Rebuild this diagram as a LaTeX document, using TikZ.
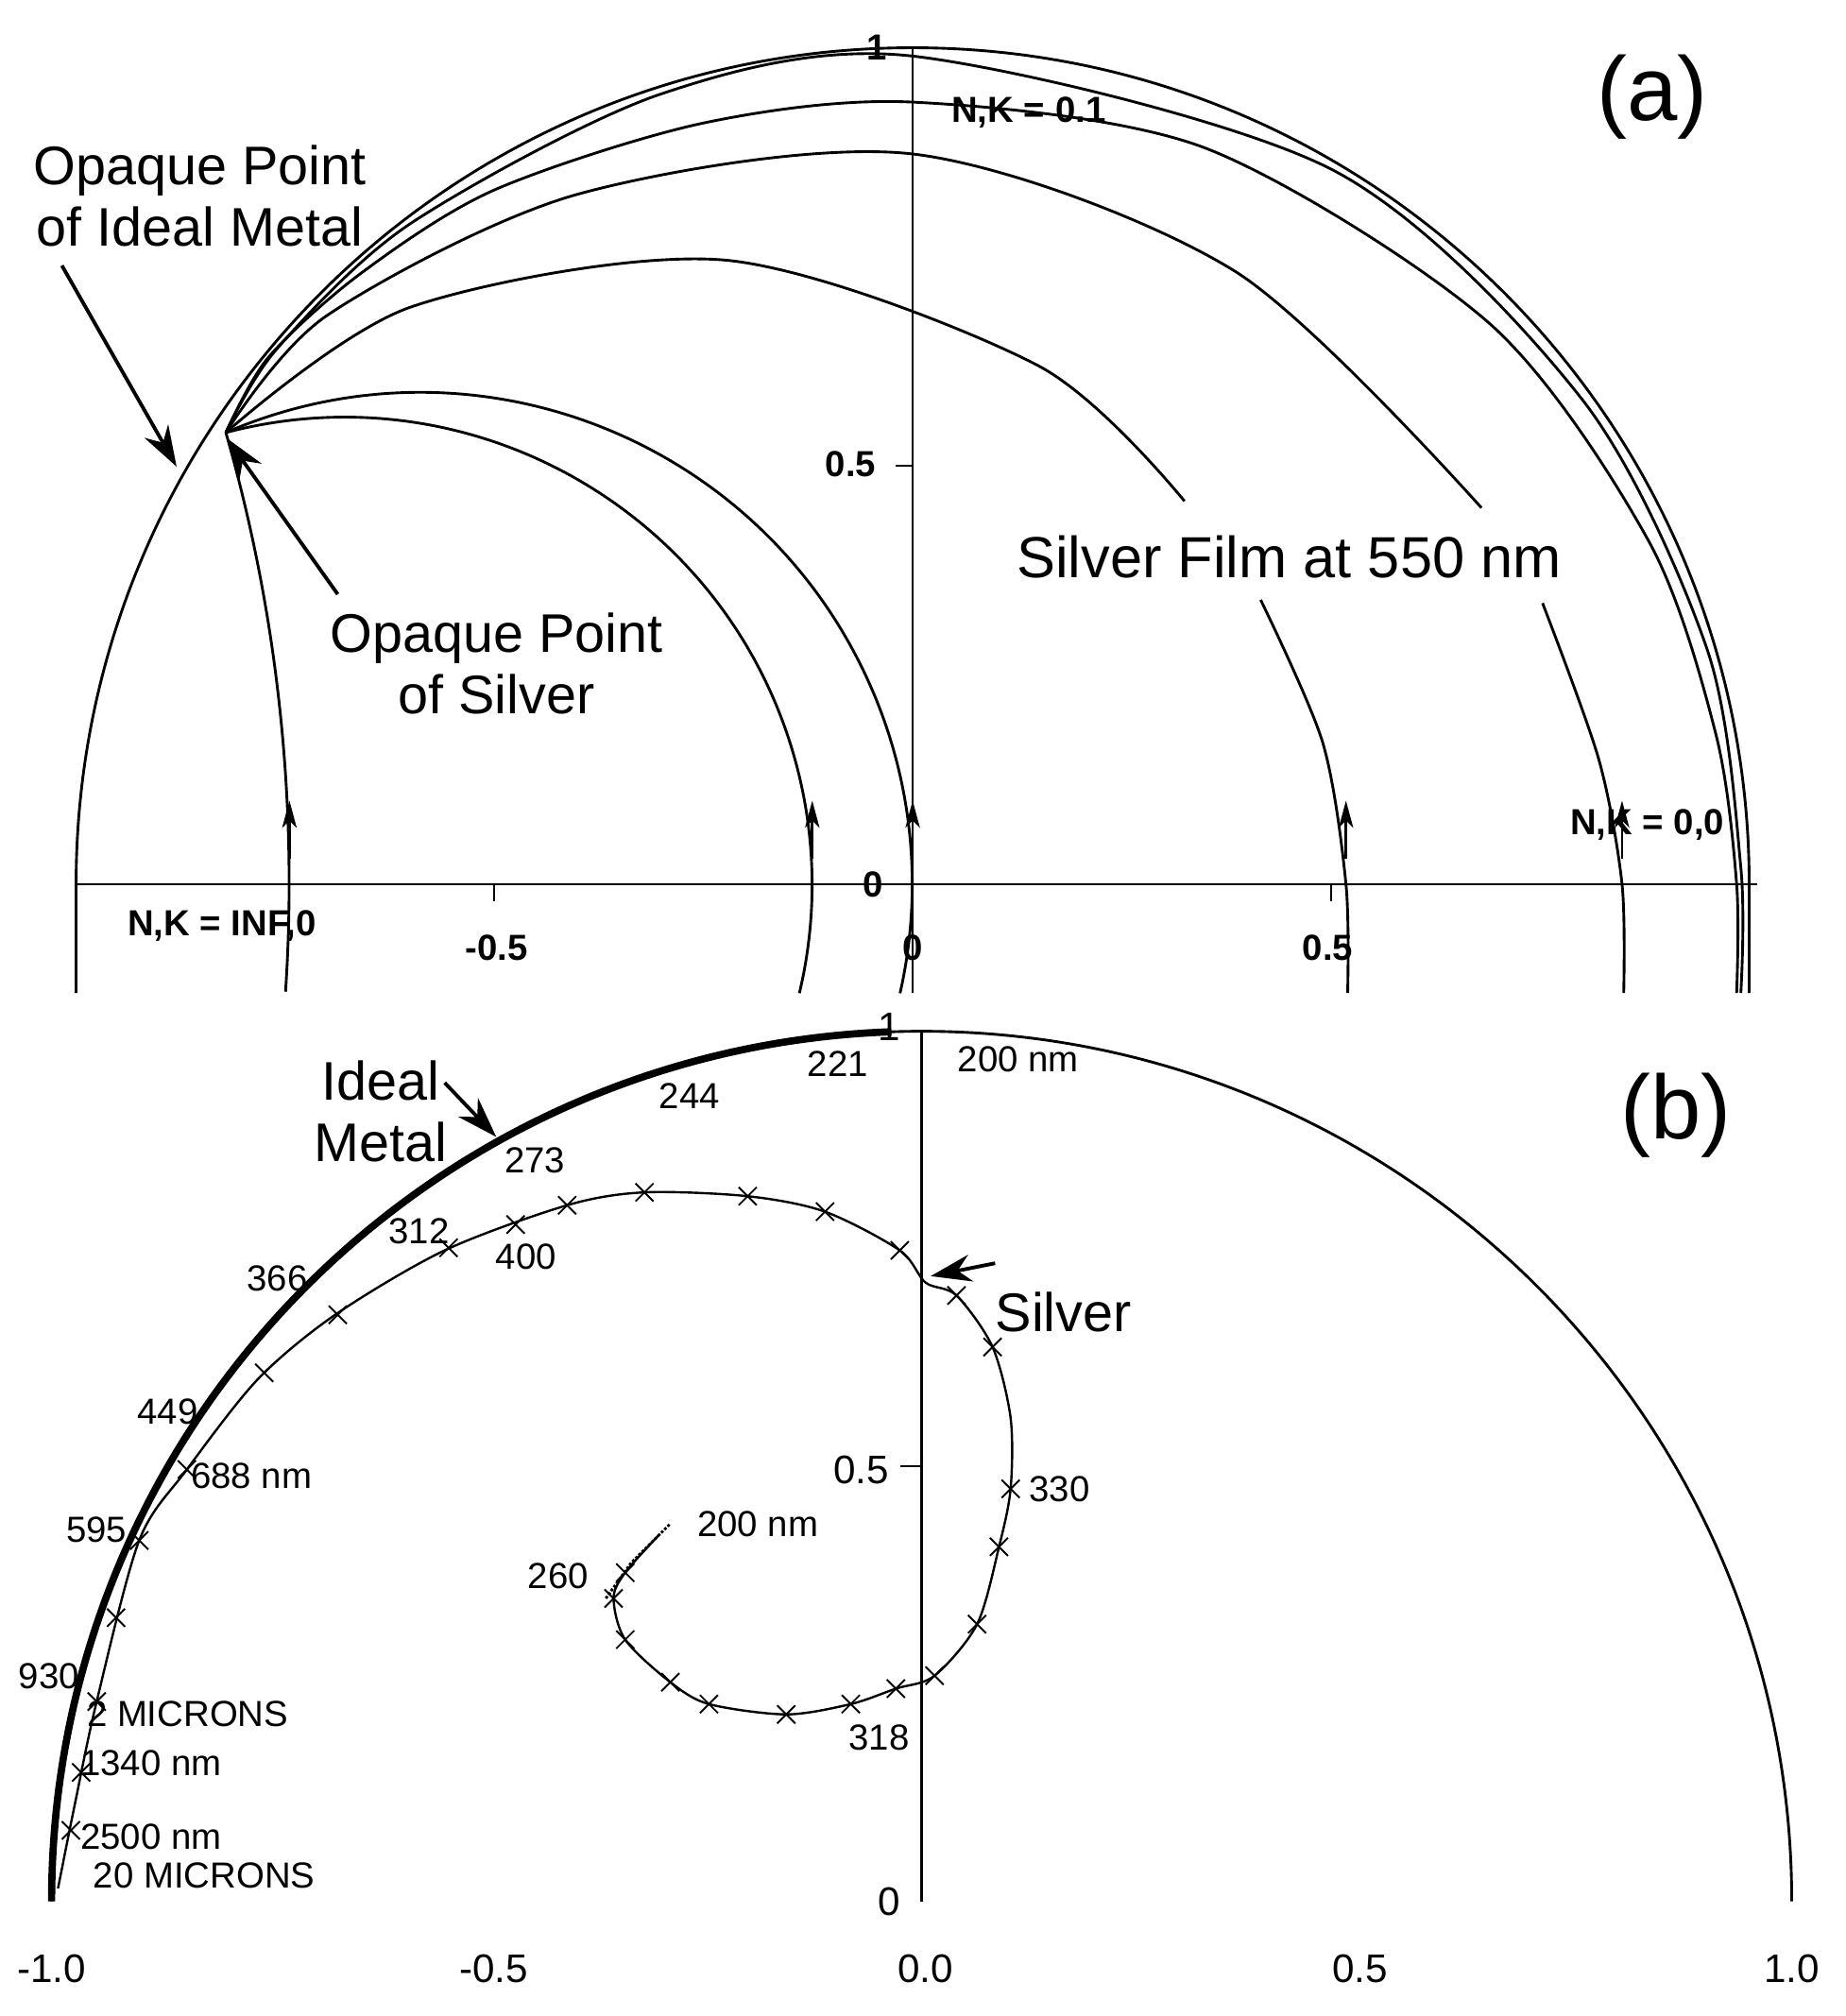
\documentclass[tikz,border=0pt]{standalone}
\usepackage{fontspec}
\setmainfont{Liberation Sans}
\usetikzlibrary{arrows.meta}
\begin{document}
\begin{tikzpicture}[x=0.05cm,y=-0.05cm,
  crv/.style={line width=3pt,black},
  ax/.style={line width=2.5pt},
  lbl/.style={font=\fontsize{40}{44}\selectfont},
  blbl/.style={font=\bfseries\fontsize{40}{44}\selectfont},
  big/.style={font=\fontsize{60}{68}\selectfont, align=center},
  huge/.style={font=\fontsize{100}{110}\selectfont},
  arr/.style={line width=4pt,-{Stealth[length=45pt,width=30pt]}},
  uparr/.style={line width=3pt,-{Stealth[length=30pt,width=16pt,inset=8pt]}},
  xm/.style={line width=2pt}]
\fill[white] (0,0) rectangle (1432,1564);
\useasboundingbox (0,0) rectangle (1432,1564);
% ===== panel (a) =====
\begin{scope}[shift={(708,686)},x=32.45cm,y=32.45cm]
 \coordinate (P) at (-0.821,0.54);
 \draw[ax] (-1.0,0) -- (1.01,0);
 \draw[ax] (0,-0.13) -- (0,1.0);
 \draw[ax] (-0.5,0) -- (-0.5,-0.02) (0.5,0)--(0.5,-0.02) (0,0.5)--(-0.02,0.5);
 \draw[crv] (1,-0.13) -- (1,0) arc (0:180:1) -- (-1,-0.13);
 \draw[crv] plot[smooth] coordinates {(P) (-0.76,0.64) (-0.6,0.79) (-0.3,0.945) (0,0.99) (0.5,0.855) (0.8,0.58) (0.95,0.28) (0.99,0.02) (0.99,-0.13)};
 \draw[crv] plot[smooth] coordinates {(P) (-0.77,0.63) (-0.66,0.73) (-0.5,0.83) (-0.25,0.91) (0,0.935) (0.35,0.88) (0.69,0.67) (0.88,0.41) (0.96,0.18) (0.985,0) (0.985,-0.13)};
 \draw[crv] plot[smooth] coordinates {(P) (-0.7,0.68) (-0.4,0.825) (0,0.873) (0.385,0.733) (0.68,0.45)};
 \draw[crv] plot[smooth] coordinates {(0.753,0.336) (0.82,0.15) (0.848,0) (0.85,-0.13)};
 \draw[crv] plot[smooth] coordinates {(P) (-0.6,0.69) (-0.223,0.746) (0.15,0.62) (0.325,0.458)};
 \draw[crv] plot[smooth] coordinates {(0.416,0.34) (0.49,0.17) (0.518,0) (0.52,-0.13)};
 \draw[crv] (P) arc[start angle=113.3, end angle=-12.8, radius=0.588];
 \draw[crv] (P) arc[start angle=104.7, end angle=-13.4, radius=0.559];
 \draw[crv] (P) arc[start angle=16, end angle=-3.8, radius=1.955];
 \foreach \xx in {-0.745,-0.12,0,0.518,0.848}{\draw[uparr] (\xx,0.03) -- (\xx,0.1);}
\end{scope}
\node[huge] (la) at (1282,75) {(a)};
\node[big] (oim) at (155,152) {Opaque Point\\of Ideal Metal};
\node[big] (os) at (385,515) {Opaque Point\\of Silver};
\coordinate (pa) at (137,362);
\coordinate (pb) at (176,340);
\draw[arr] (48,206) -- (pa);
\draw[arr] (262,461) -- (pb);
\node[font=\fontsize{64}{70}\selectfont] (sf) at (1000,432) {Silver Film at 550 nm};
\node[blbl] (nk1) at (798,87) {N,K = 0.1};
\node[blbl] (nk0) at (1278,640) {N,K = 0,0};
\node[blbl] (nki) at (172,718) {N,K = INF,0};
\node[blbl,fill=white,inner sep=1pt] (t05) at (660,360) {0.5};
\node[blbl] (t1) at (680,37) {1};
\node[blbl] (t0) at (677,686) {0};
\node[blbl] (tm5) at (385,735) {-0.5};
\node[blbl] (tx0) at (708,735) {0};
\node[blbl] (tx5) at (1030,735) {0.5};
% ===== panel (b) =====
\begin{scope}[shift={(715,1475)},x=33.75cm,y=33.75cm]
 \draw[ax] (0,0) -- (0,1);
 \draw[ax] (0,0.5) -- (-0.025,0.5);
 \draw[crv] (1,0) arc (0:180:1);
 \draw[line width=8pt] (-1,0) arc (180:92:1);
\end{scope}
\draw[line width=2.5pt] plot[smooth] coordinates {(45,1465) (58,1400) (75,1320) (108,1195) (145,1140) (200,1070) (260,1020) (345,970) (440,935) (500,925) (580,928) (640,940) (698,970) (718,995) (742,1005) (770,1045) (784,1100) (784,1155) (775,1200) (758,1260) (725,1300) (695,1310) (660,1322) (610,1330) (550,1322) (520,1305) (485,1272) (476,1240) (485,1220) (512,1190)};
\draw[line width=3pt,dotted] (470,1240) -- (490,1212) -- (520,1182);
\foreach \px/\py in {55/1420, 63/1375, 75/1320, 90/1255, 108/1195, 145/1140, 205/1065, 262/1020, 348/968, 400/950, 440/935, 500/925, 580/928, 640/940, 698/970, 742/1005, 770/1045, 784/1155, 775/1200, 758/1260, 725/1300, 695/1310, 660/1322, 610/1330, 550/1322, 520/1305, 485/1272, 476/1240, 485/1220}
  {\draw[xm] (\px-7,\py-7) -- (\px+7,\py+7) (\px-7,\py+7) -- (\px+7,\py-7);}
\node[huge] (lb) at (1300,865) {(b)};
\node[big] (im) at (295,862) {Ideal\\Metal};
\coordinate (imt) at (385,882);
\draw[arr] (345,840) -- (imt);
\node[big] (sv) at (825,1018) {Silver};
\coordinate (svt) at (722,990);
\draw[arr] (772,980) -- (svt);
\foreach \t/\px/\py in {221/650/825, 200 nm/790/822, 244/535/850, 273/415/900, 312/325/955, 400/408/975, 366/215/992, 449/130/1095, 688 nm/195/1145, 595/75/1187, 930/38/1300, 330/822/1155, 318/682/1348, 260/433/1223, 200 nm/588/1182}
  {\node[lbl] at (\px,\py) {\t};}
\node[lbl,anchor=west] (m2) at (65,1330) {2 MICRONS};
\node[lbl,anchor=west] (n13) at (60,1368) {1340 nm};
\node[lbl,anchor=west] (n25) at (60,1425) {2500 nm};
\node[lbl,anchor=west] (m20) at (70,1455) {20 MICRONS};
\node[lbl,font=\fontsize{44}{48}\selectfont] (b1) at (690,797) {1};
\node[lbl,font=\fontsize{44}{48}\selectfont] (b05) at (668,1140) {0.5};
\node[lbl,font=\fontsize{44}{48}\selectfont] (b0) at (690,1475) {0};
\foreach \t/\px in {-1.0/40, -0.5/383, 0.0/718, 0.5/1055, 1.0/1390}
  {\node[font=\fontsize{44}{48}\selectfont] at (\px,1527) {\t};}
\end{tikzpicture}
\end{document}
